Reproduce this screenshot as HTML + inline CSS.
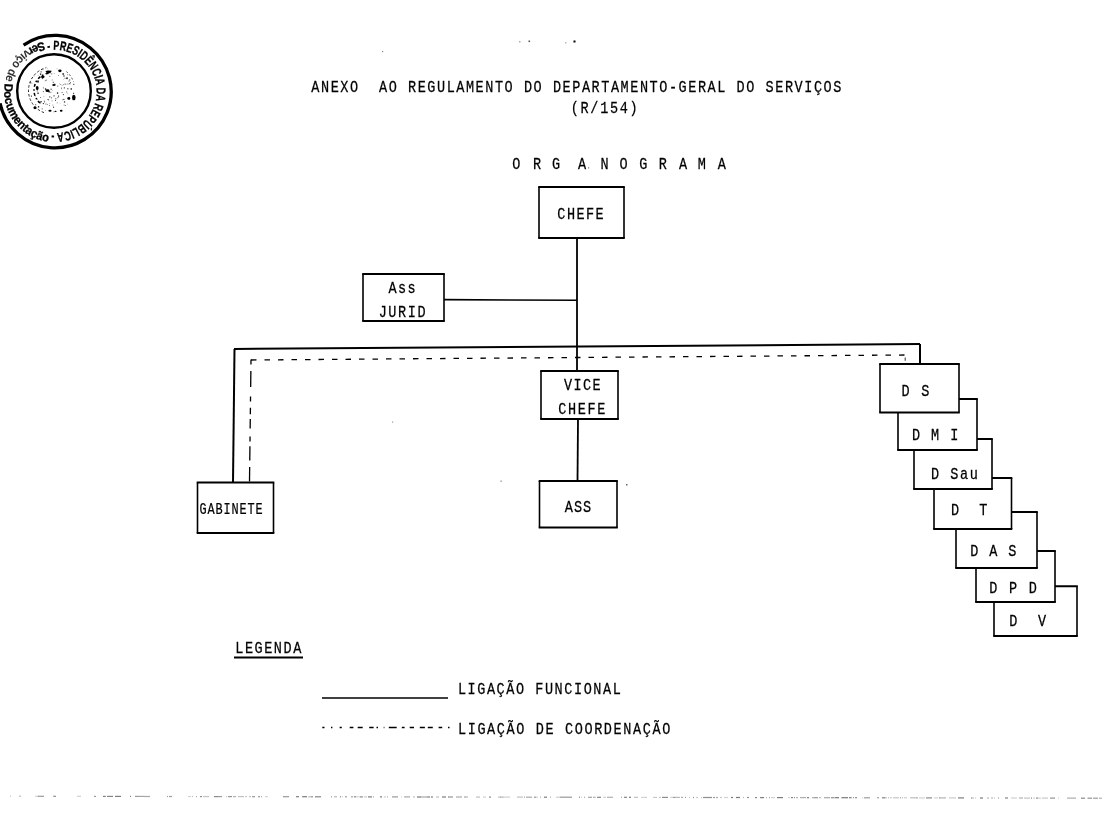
<!DOCTYPE html>
<html><head><meta charset="utf-8"><style>
html,body{margin:0;padding:0;background:#fff;width:1107px;height:814px;overflow:hidden}
svg{position:absolute;left:0;top:0;will-change:transform}
text{font-family:"Liberation Mono",monospace;fill:#000;stroke:#000;stroke-width:0.25}
.st{font-family:"Liberation Sans",sans-serif;font-weight:bold;stroke:#000;stroke-width:0.3}
</style></head><body>
<svg width="1107" height="814" viewBox="0 0 1107 814">
<text transform="translate(311.30,92) scale(0.82,1)" font-size="16.5" letter-spacing="1.893" xml:space="preserve">ANEXO  AO REGULAMENTO DO DEPARTAMENTO-GERAL DO SERVIÇOS</text>
<text transform="translate(570.74,113.3) scale(0.82,1)" font-size="16.5" letter-spacing="2.052" xml:space="preserve">(R/154)</text>
<text transform="translate(512.33,168.6) scale(0.82,1)" font-size="16.5">O</text>
<text transform="translate(532.93,168.6) scale(0.82,1)" font-size="16.5">R</text>
<text transform="translate(551.95,168.6) scale(0.82,1)" font-size="16.5">G</text>
<text transform="translate(578.00,168.6) scale(0.82,1)" font-size="16.5">A</text>
<text transform="translate(600.43,168.6) scale(0.82,1)" font-size="16.5">N</text>
<text transform="translate(619.53,168.6) scale(0.82,1)" font-size="16.5">O</text>
<text transform="translate(639.25,168.6) scale(0.82,1)" font-size="16.5">G</text>
<text transform="translate(658.63,168.6) scale(0.82,1)" font-size="16.5">R</text>
<text transform="translate(678.90,168.6) scale(0.82,1)" font-size="16.5">A</text>
<text transform="translate(697.75,168.6) scale(0.82,1)" font-size="16.5">M</text>
<text transform="translate(717.80,168.6) scale(0.82,1)" font-size="16.5">A</text>
<rect x="588" y="167.3" width="1.2" height="1.2" fill="#777"/>
<line x1="577" y1="238" x2="577" y2="371" stroke="#000" stroke-width="1.8"/>
<line x1="444" y1="299.6" x2="577" y2="300.3" stroke="#000" stroke-width="1.6"/>
<line x1="234" y1="349" x2="920" y2="344" stroke="#000" stroke-width="2"/>
<line x1="234.5" y1="349" x2="233" y2="482" stroke="#000" stroke-width="2"/>
<line x1="920" y1="344" x2="920" y2="364" stroke="#000" stroke-width="2"/>
<line x1="251" y1="360" x2="905" y2="355" stroke="#000" stroke-width="1.3" stroke-dasharray="5.5 8"/>
<line x1="251.00614754098362" y1="359.5" x2="250.94344262295084" y2="364.6" stroke="#000" stroke-width="1.3"/>
<line x1="250.86475409836066" y1="371" x2="250.66803278688525" y2="387" stroke="#000" stroke-width="1.3"/>
<line x1="250.55" y1="396.6" x2="250.4909836065574" y2="401.4" stroke="#000" stroke-width="1.3"/>
<line x1="250.41229508196722" y1="407.8" x2="250.33360655737704" y2="414.2" stroke="#000" stroke-width="1.3"/>
<line x1="250.27459016393442" y1="419" x2="250.15655737704918" y2="428.6" stroke="#000" stroke-width="1.3"/>
<line x1="250.05819672131148" y1="436.6" x2="249.99918032786886" y2="441.4" stroke="#000" stroke-width="1.3"/>
<line x1="249.94016393442624" y1="446.2" x2="249.76311475409838" y2="460.6" stroke="#000" stroke-width="1.3"/>
<line x1="249.6844262295082" y1="467" x2="249.50737704918035" y2="481.4" stroke="#000" stroke-width="1.3"/>
<line x1="905.2" y1="357.5" x2="905.2" y2="360.8" stroke="#333" stroke-width="1"/>
<line x1="578" y1="419" x2="577.5" y2="481" stroke="#000" stroke-width="1.8"/>
<rect x="539" y="187" width="85" height="51" fill="#fff"/>
<line x1="538.2" y1="187" x2="624.8" y2="187" stroke="#000" stroke-width="2"/>
<line x1="538.2" y1="238" x2="624.8" y2="238" stroke="#000" stroke-width="2"/>
<line x1="539" y1="187" x2="539" y2="238" stroke="#000" stroke-width="1.6"/>
<line x1="624" y1="187" x2="624" y2="238" stroke="#000" stroke-width="1.6"/>
<rect x="363" y="274" width="81" height="47" fill="#fff"/>
<line x1="362.2" y1="274" x2="444.8" y2="274" stroke="#000" stroke-width="2"/>
<line x1="362.2" y1="321" x2="444.8" y2="321" stroke="#000" stroke-width="2"/>
<line x1="363" y1="274" x2="363" y2="321" stroke="#000" stroke-width="1.6"/>
<line x1="444" y1="274" x2="444" y2="321" stroke="#000" stroke-width="1.6"/>
<rect x="541" y="371" width="77" height="48" fill="#fff"/>
<line x1="540.2" y1="371" x2="618.8" y2="371" stroke="#000" stroke-width="2"/>
<line x1="540.2" y1="419" x2="618.8" y2="419" stroke="#000" stroke-width="2"/>
<line x1="541" y1="371" x2="541" y2="419" stroke="#000" stroke-width="1.6"/>
<line x1="618" y1="371" x2="618" y2="419" stroke="#000" stroke-width="1.6"/>
<rect x="539.5" y="481" width="77.5" height="46.5" fill="#fff"/>
<line x1="538.7" y1="481" x2="617.8" y2="481" stroke="#000" stroke-width="2"/>
<line x1="538.7" y1="527.5" x2="617.8" y2="527.5" stroke="#000" stroke-width="2"/>
<line x1="539.5" y1="481" x2="539.5" y2="527.5" stroke="#000" stroke-width="1.6"/>
<line x1="617" y1="481" x2="617" y2="527.5" stroke="#000" stroke-width="1.6"/>
<rect x="197.5" y="482.5" width="76.0" height="50.5" fill="#fff"/>
<line x1="196.7" y1="482.5" x2="274.3" y2="482.5" stroke="#000" stroke-width="2"/>
<line x1="196.7" y1="533" x2="274.3" y2="533" stroke="#000" stroke-width="2"/>
<line x1="197.5" y1="482.5" x2="197.5" y2="533" stroke="#000" stroke-width="1.6"/>
<line x1="273.5" y1="482.5" x2="273.5" y2="533" stroke="#000" stroke-width="1.6"/>
<rect x="994" y="586.3" width="83" height="49.700000000000045" fill="#fff"/>
<line x1="993.2" y1="586.3" x2="1077.8" y2="586.3" stroke="#000" stroke-width="2"/>
<line x1="993.2" y1="636" x2="1077.8" y2="636" stroke="#000" stroke-width="2"/>
<line x1="994" y1="586.3" x2="994" y2="636" stroke="#000" stroke-width="1.6"/>
<line x1="1077" y1="586.3" x2="1077" y2="636" stroke="#000" stroke-width="1.6"/>
<rect x="976" y="551" width="79" height="51" fill="#fff"/>
<line x1="975.2" y1="551" x2="1055.8" y2="551" stroke="#000" stroke-width="2"/>
<line x1="975.2" y1="602" x2="1055.8" y2="602" stroke="#000" stroke-width="2"/>
<line x1="976" y1="551" x2="976" y2="602" stroke="#000" stroke-width="1.6"/>
<line x1="1055" y1="551" x2="1055" y2="602" stroke="#000" stroke-width="1.6"/>
<rect x="956" y="512" width="81" height="56" fill="#fff"/>
<line x1="955.2" y1="512" x2="1037.8" y2="512" stroke="#000" stroke-width="2"/>
<line x1="955.2" y1="568" x2="1037.8" y2="568" stroke="#000" stroke-width="2"/>
<line x1="956" y1="512" x2="956" y2="568" stroke="#000" stroke-width="1.6"/>
<line x1="1037" y1="512" x2="1037" y2="568" stroke="#000" stroke-width="1.6"/>
<rect x="934" y="478" width="77.5" height="51" fill="#fff"/>
<line x1="933.2" y1="478" x2="1012.3" y2="478" stroke="#000" stroke-width="2"/>
<line x1="933.2" y1="529" x2="1012.3" y2="529" stroke="#000" stroke-width="2"/>
<line x1="934" y1="478" x2="934" y2="529" stroke="#000" stroke-width="1.6"/>
<line x1="1011.5" y1="478" x2="1011.5" y2="529" stroke="#000" stroke-width="1.6"/>
<rect x="914" y="439" width="78" height="50" fill="#fff"/>
<line x1="913.2" y1="439" x2="992.8" y2="439" stroke="#000" stroke-width="2"/>
<line x1="913.2" y1="489" x2="992.8" y2="489" stroke="#000" stroke-width="2"/>
<line x1="914" y1="439" x2="914" y2="489" stroke="#000" stroke-width="1.6"/>
<line x1="992" y1="439" x2="992" y2="489" stroke="#000" stroke-width="1.6"/>
<rect x="898" y="399" width="79" height="51" fill="#fff"/>
<line x1="897.2" y1="399" x2="977.8" y2="399" stroke="#000" stroke-width="2"/>
<line x1="897.2" y1="450" x2="977.8" y2="450" stroke="#000" stroke-width="2"/>
<line x1="898" y1="399" x2="898" y2="450" stroke="#000" stroke-width="1.6"/>
<line x1="977" y1="399" x2="977" y2="450" stroke="#000" stroke-width="1.6"/>
<rect x="880" y="364" width="79" height="48.5" fill="#fff"/>
<line x1="879.2" y1="364" x2="959.8" y2="364" stroke="#000" stroke-width="2"/>
<line x1="879.2" y1="412.5" x2="959.8" y2="412.5" stroke="#000" stroke-width="2"/>
<line x1="880" y1="364" x2="880" y2="412.5" stroke="#000" stroke-width="1.6"/>
<line x1="959" y1="364" x2="959" y2="412.5" stroke="#000" stroke-width="1.6"/>
<text transform="translate(557.35,219.1) scale(0.82,1)" font-size="16.5" letter-spacing="1.755" xml:space="preserve">CHEFE</text>
<text transform="translate(388.60,292.6) scale(0.82,1)" font-size="16.5" letter-spacing="1.682" xml:space="preserve">Ass</text>
<text transform="translate(378.64,316.9) scale(0.82,1)" font-size="16.5" letter-spacing="1.967" xml:space="preserve">JURID</text>
<text transform="translate(563.93,390) scale(0.82,1)" font-size="16.5" letter-spacing="1.746" xml:space="preserve">VICE</text>
<text transform="translate(558.25,414.3) scale(0.82,1)" font-size="16.5" letter-spacing="1.999" xml:space="preserve">CHEFE</text>
<text transform="translate(564.80,512) scale(0.82,1)" font-size="16.5" letter-spacing="1.225" xml:space="preserve">ASS</text>
<text transform="translate(199.54,513.5) scale(0.72,1)" font-size="16.5" letter-spacing="1.219" xml:space="preserve">GABINETE</text>
<text transform="translate(901.53,396) scale(0.82,1)" font-size="16.5" letter-spacing="2.061" xml:space="preserve">D S</text>
<text transform="translate(911.93,439.6) scale(0.82,1)" font-size="16.5" letter-spacing="1.775" xml:space="preserve">D M I</text>
<text transform="translate(930.93,478.6) scale(0.82,1)" font-size="16.5" letter-spacing="1.958" xml:space="preserve">D Sau</text>
<text transform="translate(950.93,514.8) scale(0.82,1)" font-size="16.5" letter-spacing="1.627" xml:space="preserve">D  T</text>
<text transform="translate(970.33,556.3) scale(0.82,1)" font-size="16.5" letter-spacing="1.628" xml:space="preserve">D A S</text>
<text transform="translate(989.13,592.9) scale(0.82,1)" font-size="16.5" letter-spacing="2.214" xml:space="preserve">D P D</text>
<text transform="translate(1009.13,625.5) scale(0.82,1)" font-size="16.5" letter-spacing="1.815" xml:space="preserve">D  V</text>
<text transform="translate(235.23,653) scale(0.82,1)" font-size="16.5" letter-spacing="1.877" xml:space="preserve">LEGENDA</text>
<line x1="234" y1="657.5" x2="303" y2="657.5" stroke="#000" stroke-width="1.8"/>
<line x1="322" y1="698" x2="448" y2="698" stroke="#000" stroke-width="1.5"/>
<line x1="322.3" y1="727.5" x2="324.5" y2="727.5" stroke="#000" stroke-width="1.5"/>
<line x1="331" y1="727.5" x2="332.4" y2="727.5" stroke="#000" stroke-width="1.5"/>
<line x1="339.6" y1="727.5" x2="341.8" y2="727.5" stroke="#000" stroke-width="1.5"/>
<line x1="349.7" y1="727.5" x2="353.4" y2="727.5" stroke="#000" stroke-width="1.5"/>
<line x1="357.7" y1="727.5" x2="362.7" y2="727.5" stroke="#000" stroke-width="1.5"/>
<line x1="369.2" y1="727.5" x2="373.6" y2="727.5" stroke="#000" stroke-width="1.5"/>
<line x1="376.5" y1="727.5" x2="378" y2="727.5" stroke="#000" stroke-width="1.5"/>
<line x1="383.7" y1="727.5" x2="384.4" y2="727.5" stroke="#000" stroke-width="1.5"/>
<line x1="388.8" y1="727.5" x2="396.7" y2="727.5" stroke="#000" stroke-width="1.5"/>
<line x1="401.8" y1="727.5" x2="404.6" y2="727.5" stroke="#000" stroke-width="1.5"/>
<line x1="409.7" y1="727.5" x2="414" y2="727.5" stroke="#000" stroke-width="1.5"/>
<line x1="419.8" y1="727.5" x2="424.9" y2="727.5" stroke="#000" stroke-width="1.5"/>
<line x1="427.8" y1="727.5" x2="432.8" y2="727.5" stroke="#000" stroke-width="1.5"/>
<line x1="438.6" y1="727.5" x2="442.2" y2="727.5" stroke="#000" stroke-width="1.5"/>
<line x1="448" y1="727.5" x2="449.5" y2="727.5" stroke="#000" stroke-width="1.5"/>
<text transform="translate(457.93,693.8) scale(0.82,1)" font-size="16.5" letter-spacing="1.897" xml:space="preserve">LIGAÇÃO FUNCIONAL</text>
<text transform="translate(457.93,734) scale(0.82,1)" font-size="16.5" letter-spacing="1.970" xml:space="preserve">LIGAÇÃO DE COORDENAÇÃO</text>
<g><rect x="10" y="795.6" width="1" height="1.2" fill="rgb(195,195,195)"/><rect x="19" y="795.6" width="2" height="1.2" fill="rgb(190,190,190)"/><rect x="35" y="795.7" width="2" height="1.2" fill="rgb(214,214,214)"/><rect x="37" y="795.7" width="1" height="1.2" fill="rgb(195,195,195)"/><rect x="38" y="795.7" width="6" height="1.2" fill="rgb(154,154,154)"/><rect x="53" y="795.7" width="1" height="1.2" fill="rgb(166,166,166)"/><rect x="54" y="795.7" width="2" height="1.2" fill="rgb(147,147,147)"/><rect x="77" y="795.7" width="4" height="1.2" fill="rgb(209,209,209)"/><rect x="94" y="795.8" width="2" height="1.2" fill="rgb(156,156,156)"/><rect x="103" y="795.8" width="2" height="1.2" fill="rgb(128,128,128)"/><rect x="105" y="795.8" width="1" height="1.2" fill="rgb(157,157,157)"/><rect x="107" y="795.8" width="6" height="1.2" fill="rgb(135,135,135)"/><rect x="115" y="795.8" width="6" height="1.2" fill="rgb(125,125,125)"/><rect x="130" y="795.8" width="1" height="1.2" fill="rgb(129,129,129)"/><rect x="135" y="795.8" width="3" height="1.2" fill="rgb(153,153,153)"/><rect x="138" y="795.8" width="6" height="1.2" fill="rgb(163,163,163)"/><rect x="144" y="795.9" width="6" height="1.2" fill="rgb(168,168,168)"/><rect x="167" y="795.9" width="1" height="1.2" fill="rgb(158,158,158)"/><rect x="169" y="795.9" width="3" height="1.2" fill="rgb(158,158,158)"/><rect x="188" y="795.9" width="3" height="1.2" fill="rgb(210,210,210)"/><rect x="192" y="795.9" width="1" height="1.2" fill="rgb(195,195,195)"/><rect x="196" y="796.0" width="1" height="1.2" fill="rgb(167,167,167)"/><rect x="200" y="796.0" width="2" height="1.2" fill="rgb(143,143,143)"/><rect x="203" y="796.0" width="6" height="1.2" fill="rgb(196,196,196)"/><rect x="214" y="796.0" width="4" height="1.2" fill="rgb(136,136,136)"/><rect x="218" y="796.0" width="4" height="1.2" fill="rgb(154,154,154)"/><rect x="226" y="796.0" width="1" height="1.2" fill="rgb(196,196,196)"/><rect x="228" y="796.0" width="4" height="1.2" fill="rgb(148,148,148)"/><rect x="233" y="796.0" width="3" height="1.2" fill="rgb(177,177,177)"/><rect x="238" y="796.0" width="6" height="1.2" fill="rgb(193,193,193)"/><rect x="245" y="796.0" width="2" height="1.2" fill="rgb(202,202,202)"/><rect x="249" y="796.0" width="2" height="1.2" fill="rgb(195,195,195)"/><rect x="252" y="796.1" width="3" height="1.2" fill="rgb(154,154,154)"/><rect x="258" y="796.1" width="2" height="1.2" fill="rgb(157,157,157)"/><rect x="261" y="796.1" width="1" height="1.2" fill="rgb(172,172,172)"/><rect x="265" y="796.1" width="3" height="1.2" fill="rgb(211,211,211)"/><rect x="283" y="796.1" width="6" height="1.2" fill="rgb(151,151,151)"/><rect x="296" y="796.1" width="3" height="1.2" fill="rgb(126,126,126)"/><rect x="302" y="796.1" width="1" height="1.2" fill="rgb(141,141,141)"/><rect x="303" y="796.1" width="4" height="1.2" fill="rgb(122,122,122)"/><rect x="308" y="796.2" width="1" height="1.2" fill="rgb(198,198,198)"/><rect x="309" y="796.2" width="2" height="1.2" fill="rgb(189,189,189)"/><rect x="311" y="796.2" width="2" height="1.2" fill="rgb(148,148,148)"/><rect x="315" y="796.2" width="6" height="1.2" fill="rgb(135,135,135)"/><rect x="331" y="796.2" width="1" height="1.2" fill="rgb(154,154,154)"/><rect x="334" y="796.2" width="3" height="1.2" fill="rgb(186,186,186)"/><rect x="340" y="796.2" width="1" height="1.2" fill="rgb(135,135,135)"/><rect x="342" y="796.2" width="1" height="1.2" fill="rgb(211,211,211)"/><rect x="345" y="796.2" width="2" height="1.2" fill="rgb(160,160,160)"/><rect x="351" y="796.2" width="2" height="1.2" fill="rgb(166,166,166)"/><rect x="354" y="796.2" width="2" height="1.2" fill="rgb(135,135,135)"/><rect x="356" y="796.2" width="4" height="1.2" fill="rgb(212,212,212)"/><rect x="360" y="796.3" width="3" height="1.2" fill="rgb(142,142,142)"/><rect x="364" y="796.3" width="3" height="1.2" fill="rgb(203,203,203)"/><rect x="368" y="796.3" width="4" height="1.2" fill="rgb(125,125,125)"/><rect x="373" y="796.3" width="1" height="1.2" fill="rgb(167,167,167)"/><rect x="380" y="796.3" width="2" height="1.2" fill="rgb(122,122,122)"/><rect x="384" y="796.3" width="2" height="1.2" fill="rgb(208,208,208)"/><rect x="387" y="796.3" width="1" height="1.2" fill="rgb(174,174,174)"/><rect x="392" y="796.3" width="6" height="1.2" fill="rgb(153,153,153)"/><rect x="401" y="796.3" width="1" height="1.2" fill="rgb(213,213,213)"/><rect x="404" y="796.3" width="6" height="1.2" fill="rgb(168,168,168)"/><rect x="413" y="796.3" width="2" height="1.2" fill="rgb(192,192,192)"/><rect x="417" y="796.4" width="4" height="1.2" fill="rgb(120,120,120)"/><rect x="421" y="796.4" width="6" height="1.2" fill="rgb(169,169,169)"/><rect x="427" y="796.4" width="3" height="1.2" fill="rgb(132,132,132)"/><rect x="431" y="796.4" width="1" height="1.2" fill="rgb(123,123,123)"/><rect x="432" y="796.4" width="1" height="1.2" fill="rgb(134,134,134)"/><rect x="436" y="796.4" width="2" height="1.2" fill="rgb(194,194,194)"/><rect x="438" y="796.4" width="1" height="1.2" fill="rgb(192,192,192)"/><rect x="442" y="796.4" width="1" height="1.2" fill="rgb(133,133,133)"/><rect x="443" y="796.4" width="3" height="1.2" fill="rgb(127,127,127)"/><rect x="448" y="796.4" width="1" height="1.2" fill="rgb(129,129,129)"/><rect x="449" y="796.4" width="4" height="1.2" fill="rgb(151,151,151)"/><rect x="456" y="796.4" width="6" height="1.2" fill="rgb(170,170,170)"/><rect x="464" y="796.4" width="2" height="1.2" fill="rgb(164,164,164)"/><rect x="466" y="796.4" width="2" height="1.2" fill="rgb(184,184,184)"/><rect x="476" y="796.5" width="4" height="1.2" fill="rgb(192,192,192)"/><rect x="483" y="796.5" width="3" height="1.2" fill="rgb(207,207,207)"/><rect x="489" y="796.5" width="2" height="1.2" fill="rgb(139,139,139)"/><rect x="498" y="796.5" width="2" height="1.2" fill="rgb(195,195,195)"/><rect x="500" y="796.5" width="1" height="1.2" fill="rgb(154,154,154)"/><rect x="501" y="796.5" width="3" height="1.2" fill="rgb(185,185,185)"/><rect x="504" y="796.5" width="6" height="1.2" fill="rgb(208,208,208)"/><rect x="517" y="796.5" width="6" height="1.2" fill="rgb(194,194,194)"/><rect x="524" y="796.5" width="1" height="1.2" fill="rgb(159,159,159)"/><rect x="526" y="796.6" width="6" height="1.2" fill="rgb(168,168,168)"/><rect x="534" y="796.6" width="2" height="1.2" fill="rgb(150,150,150)"/><rect x="536" y="796.6" width="2" height="1.2" fill="rgb(209,209,209)"/><rect x="540" y="796.6" width="1" height="1.2" fill="rgb(179,179,179)"/><rect x="544" y="796.6" width="3" height="1.2" fill="rgb(123,123,123)"/><rect x="550" y="796.6" width="1" height="1.2" fill="rgb(171,171,171)"/><rect x="556" y="796.6" width="4" height="1.2" fill="rgb(206,206,206)"/><rect x="560" y="796.6" width="6" height="1.2" fill="rgb(152,152,152)"/><rect x="566" y="796.6" width="6" height="1.2" fill="rgb(153,153,153)"/><rect x="579" y="796.6" width="1" height="1.2" fill="rgb(125,125,125)"/><rect x="581" y="796.6" width="1" height="1.2" fill="rgb(213,213,213)"/><rect x="584" y="796.7" width="1" height="1.2" fill="rgb(165,165,165)"/><rect x="588" y="796.7" width="4" height="1.2" fill="rgb(163,163,163)"/><rect x="593" y="796.7" width="2" height="1.2" fill="rgb(175,175,175)"/><rect x="595" y="796.7" width="1" height="1.2" fill="rgb(202,202,202)"/><rect x="597" y="796.7" width="2" height="1.2" fill="rgb(136,136,136)"/><rect x="599" y="796.7" width="2" height="1.2" fill="rgb(129,129,129)"/><rect x="603" y="796.7" width="3" height="1.2" fill="rgb(209,209,209)"/><rect x="607" y="796.7" width="6" height="1.2" fill="rgb(177,177,177)"/><rect x="621" y="796.7" width="1" height="1.2" fill="rgb(163,163,163)"/><rect x="624" y="796.7" width="3" height="1.2" fill="rgb(134,134,134)"/><rect x="629" y="796.7" width="2" height="1.2" fill="rgb(127,127,127)"/><rect x="634" y="796.7" width="4" height="1.2" fill="rgb(192,192,192)"/><rect x="641" y="796.8" width="4" height="1.2" fill="rgb(213,213,213)"/><rect x="645" y="796.8" width="2" height="1.2" fill="rgb(203,203,203)"/><rect x="653" y="796.8" width="4" height="1.2" fill="rgb(203,203,203)"/><rect x="659" y="796.8" width="2" height="1.2" fill="rgb(202,202,202)"/><rect x="662" y="796.8" width="2" height="1.2" fill="rgb(142,142,142)"/><rect x="664" y="796.8" width="4" height="1.2" fill="rgb(143,143,143)"/><rect x="670" y="796.8" width="3" height="1.2" fill="rgb(214,214,214)"/><rect x="673" y="796.8" width="2" height="1.2" fill="rgb(154,154,154)"/><rect x="675" y="796.8" width="1" height="1.2" fill="rgb(181,181,181)"/><rect x="676" y="796.8" width="4" height="1.2" fill="rgb(185,185,185)"/><rect x="681" y="796.8" width="2" height="1.2" fill="rgb(177,177,177)"/><rect x="685" y="796.8" width="1" height="1.2" fill="rgb(154,154,154)"/><rect x="689" y="796.8" width="1" height="1.2" fill="rgb(192,192,192)"/><rect x="693" y="796.9" width="1" height="1.2" fill="rgb(143,143,143)"/><rect x="696" y="796.9" width="2" height="1.2" fill="rgb(205,205,205)"/><rect x="701" y="796.9" width="1" height="1.2" fill="rgb(195,195,195)"/><rect x="703" y="796.9" width="6" height="1.2" fill="rgb(144,144,144)"/><rect x="709" y="796.9" width="3" height="1.2" fill="rgb(142,142,142)"/><rect x="713" y="796.9" width="2" height="1.2" fill="rgb(157,157,157)"/><rect x="716" y="796.9" width="2" height="1.2" fill="rgb(169,169,169)"/><rect x="720" y="796.9" width="2" height="1.2" fill="rgb(201,201,201)"/><rect x="724" y="796.9" width="4" height="1.2" fill="rgb(210,210,210)"/><rect x="731" y="796.9" width="2" height="1.2" fill="rgb(123,123,123)"/><rect x="736" y="796.9" width="4" height="1.2" fill="rgb(120,120,120)"/><rect x="743" y="796.9" width="1" height="1.2" fill="rgb(182,182,182)"/><rect x="747" y="796.9" width="2" height="1.2" fill="rgb(145,145,145)"/><rect x="755" y="797.0" width="2" height="1.2" fill="rgb(134,134,134)"/><rect x="760" y="797.0" width="1" height="1.2" fill="rgb(137,137,137)"/><rect x="761" y="797.0" width="3" height="1.2" fill="rgb(126,126,126)"/><rect x="766" y="797.0" width="1" height="1.2" fill="rgb(184,184,184)"/><rect x="769" y="797.0" width="1" height="1.2" fill="rgb(163,163,163)"/><rect x="771" y="797.0" width="4" height="1.2" fill="rgb(208,208,208)"/><rect x="777" y="797.0" width="6" height="1.2" fill="rgb(124,124,124)"/><rect x="788" y="797.0" width="2" height="1.2" fill="rgb(209,209,209)"/><rect x="791" y="797.0" width="2" height="1.2" fill="rgb(133,133,133)"/><rect x="794" y="797.0" width="1" height="1.2" fill="rgb(145,145,145)"/><rect x="796" y="797.0" width="2" height="1.2" fill="rgb(180,180,180)"/><rect x="800" y="797.0" width="6" height="1.2" fill="rgb(174,174,174)"/><rect x="807" y="797.1" width="2" height="1.2" fill="rgb(122,122,122)"/><rect x="812" y="797.1" width="2" height="1.2" fill="rgb(176,176,176)"/><rect x="814" y="797.1" width="4" height="1.2" fill="rgb(152,152,152)"/><rect x="819" y="797.1" width="2" height="1.2" fill="rgb(187,187,187)"/><rect x="824" y="797.1" width="6" height="1.2" fill="rgb(167,167,167)"/><rect x="831" y="797.1" width="3" height="1.2" fill="rgb(144,144,144)"/><rect x="834" y="797.1" width="1" height="1.2" fill="rgb(194,194,194)"/><rect x="835" y="797.1" width="4" height="1.2" fill="rgb(123,123,123)"/><rect x="841" y="797.1" width="1" height="1.2" fill="rgb(176,176,176)"/><rect x="842" y="797.1" width="6" height="1.2" fill="rgb(122,122,122)"/><rect x="849" y="797.1" width="2" height="1.2" fill="rgb(124,124,124)"/><rect x="851" y="797.1" width="1" height="1.2" fill="rgb(171,171,171)"/><rect x="853" y="797.1" width="1" height="1.2" fill="rgb(148,148,148)"/><rect x="855" y="797.1" width="2" height="1.2" fill="rgb(144,144,144)"/><rect x="862" y="797.2" width="1" height="1.2" fill="rgb(213,213,213)"/><rect x="864" y="797.2" width="6" height="1.2" fill="rgb(158,158,158)"/><rect x="877" y="797.2" width="2" height="1.2" fill="rgb(160,160,160)"/><rect x="882" y="797.2" width="2" height="1.2" fill="rgb(131,131,131)"/><rect x="884" y="797.2" width="1" height="1.2" fill="rgb(123,123,123)"/><rect x="885" y="797.2" width="1" height="1.2" fill="rgb(184,184,184)"/><rect x="886" y="797.2" width="1" height="1.2" fill="rgb(203,203,203)"/><rect x="888" y="797.2" width="1" height="1.2" fill="rgb(181,181,181)"/><rect x="890" y="797.2" width="2" height="1.2" fill="rgb(204,204,204)"/><rect x="893" y="797.2" width="6" height="1.2" fill="rgb(197,197,197)"/><rect x="900" y="797.2" width="1" height="1.2" fill="rgb(157,157,157)"/><rect x="902" y="797.2" width="1" height="1.2" fill="rgb(184,184,184)"/><rect x="904" y="797.2" width="3" height="1.2" fill="rgb(207,207,207)"/><rect x="910" y="797.2" width="6" height="1.2" fill="rgb(190,190,190)"/><rect x="916" y="797.3" width="2" height="1.2" fill="rgb(173,173,173)"/><rect x="919" y="797.3" width="6" height="1.2" fill="rgb(209,209,209)"/><rect x="926" y="797.3" width="6" height="1.2" fill="rgb(141,141,141)"/><rect x="934" y="797.3" width="4" height="1.2" fill="rgb(209,209,209)"/><rect x="939" y="797.3" width="1" height="1.2" fill="rgb(139,139,139)"/><rect x="940" y="797.3" width="6" height="1.2" fill="rgb(179,179,179)"/><rect x="949" y="797.3" width="4" height="1.2" fill="rgb(204,204,204)"/><rect x="953" y="797.3" width="3" height="1.2" fill="rgb(202,202,202)"/><rect x="958" y="797.3" width="6" height="1.2" fill="rgb(126,126,126)"/><rect x="971" y="797.4" width="1" height="1.2" fill="rgb(144,144,144)"/><rect x="972" y="797.4" width="2" height="1.2" fill="rgb(192,192,192)"/><rect x="975" y="797.4" width="1" height="1.2" fill="rgb(203,203,203)"/><rect x="980" y="797.4" width="3" height="1.2" fill="rgb(121,121,121)"/><rect x="987" y="797.4" width="2" height="1.2" fill="rgb(184,184,184)"/><rect x="991" y="797.4" width="2" height="1.2" fill="rgb(188,188,188)"/><rect x="994" y="797.4" width="1" height="1.2" fill="rgb(199,199,199)"/><rect x="998" y="797.4" width="1" height="1.2" fill="rgb(152,152,152)"/><rect x="1005" y="797.4" width="3" height="1.2" fill="rgb(133,133,133)"/><rect x="1011" y="797.4" width="6" height="1.2" fill="rgb(209,209,209)"/><rect x="1019" y="797.4" width="4" height="1.2" fill="rgb(177,177,177)"/><rect x="1024" y="797.5" width="6" height="1.2" fill="rgb(196,196,196)"/><rect x="1031" y="797.5" width="1" height="1.2" fill="rgb(134,134,134)"/><rect x="1033" y="797.5" width="2" height="1.2" fill="rgb(213,213,213)"/><rect x="1036" y="797.5" width="2" height="1.2" fill="rgb(144,144,144)"/><rect x="1038" y="797.5" width="3" height="1.2" fill="rgb(207,207,207)"/><rect x="1042" y="797.5" width="6" height="1.2" fill="rgb(202,202,202)"/><rect x="1050" y="797.5" width="1" height="1.2" fill="rgb(151,151,151)"/><rect x="1051" y="797.5" width="2" height="1.2" fill="rgb(150,150,150)"/><rect x="1053" y="797.5" width="2" height="1.2" fill="rgb(147,147,147)"/><rect x="1058" y="797.5" width="1" height="1.2" fill="rgb(212,212,212)"/><rect x="1067" y="797.5" width="6" height="1.2" fill="rgb(173,173,173)"/><rect x="1073" y="797.5" width="3" height="1.2" fill="rgb(172,172,172)"/><rect x="1081" y="797.6" width="4" height="1.2" fill="rgb(139,139,139)"/><rect x="1087" y="797.6" width="1" height="1.2" fill="rgb(201,201,201)"/><rect x="1088" y="797.6" width="4" height="1.2" fill="rgb(146,146,146)"/><rect x="1093" y="797.6" width="1" height="1.2" fill="rgb(164,164,164)"/><rect x="1094" y="797.6" width="4" height="1.2" fill="rgb(156,156,156)"/><rect x="1099" y="797.6" width="2" height="1.2" fill="rgb(172,172,172)"/><rect x="1101" y="797.6" width="1" height="1.2" fill="rgb(182,182,182)"/></g>
<path d="M 23.57 45.01 A 56.2 56.2 0 0 1 90.37 47.92 A 56.2 56.2 0 0 1 107.11 112.65 A 56.2 56.2 0 0 1 50.10 147.59 A 56.2 56.2 0 0 1 0.03 103.28" fill="none" stroke="#000" stroke-width="3.3"/>
<circle cx="54" cy="91" r="36.8" fill="none" stroke="#000" stroke-width="2.4"/>
<defs><path id="arcA" d="M 47.78 50.53 A 41.6 41.6 0 0 1 88.94 67.44 A 41.6 41.6 0 0 1 91.27 111.88 A 41.6 41.6 0 0 1 52.10 133.00"/><path id="arcB" d="M 43.57 42.00 A 50.8 50.8 0 0 0 4.25 93.72 A 50.8 50.8 0 0 0 47.93 141.81"/></defs>
<text class="st" font-size="13" textLength="140.9" lengthAdjust="spacingAndGlyphs"><textPath href="#arcA">- PRESIDÊNCIA DA REPÚBLICA -</textPath></text>
<text class="st" font-size="12" textLength="141.0" lengthAdjust="spacingAndGlyphs"><textPath href="#arcB">Ser<tspan fill="#333" stroke="none">viço de</tspan> Documentação</textPath></text>
<g><rect x="45.3" y="103.4" width="1.3" height="1.3" fill="#999"/><rect x="42.4" y="103.0" width="1" height="1" fill="#bbb"/><rect x="40.6" y="101.0" width="1" height="1" fill="#000"/><rect x="63.0" y="79.3" width="0.8" height="0.8" fill="#bbb"/><rect x="46.0" y="66.8" width="1" height="1" fill="#bbb"/><rect x="50.5" y="91.8" width="0.8" height="0.8" fill="#000"/><rect x="61.0" y="88.5" width="0.8" height="0.8" fill="#999"/><rect x="43.9" y="100.1" width="1" height="1" fill="#bbb"/><rect x="61.7" y="92.0" width="0.8" height="0.8" fill="#000"/><rect x="66.3" y="91.7" width="0.8" height="0.8" fill="#666"/><rect x="63.8" y="87.4" width="1" height="1" fill="#000"/><rect x="44.9" y="88.4" width="1.3" height="1.3" fill="#000"/><rect x="64.8" y="105.0" width="0.8" height="0.8" fill="#000"/><rect x="46.3" y="79.5" width="0.8" height="0.8" fill="#999"/><rect x="37.4" y="92.6" width="1.3" height="1.3" fill="#000"/><rect x="67.4" y="83.5" width="1" height="1" fill="#666"/><rect x="56.9" y="92.4" width="1.3" height="1.3" fill="#000"/><rect x="42.9" y="91.3" width="0.8" height="0.8" fill="#000"/><rect x="52.3" y="104.6" width="1" height="1" fill="#999"/><rect x="49.5" y="72.7" width="1" height="1" fill="#999"/><rect x="63.3" y="75.3" width="1.3" height="1.3" fill="#333"/><rect x="50.6" y="88.7" width="1" height="1" fill="#000"/><rect x="57.5" y="97.3" width="0.8" height="0.8" fill="#000"/><rect x="73.3" y="83.8" width="1" height="1" fill="#000"/><rect x="68.8" y="98.6" width="1" height="1" fill="#999"/><rect x="54.3" y="83.7" width="1" height="1" fill="#000"/><rect x="63.9" y="101.3" width="1.3" height="1.3" fill="#333"/><rect x="53.3" y="111.4" width="1" height="1" fill="#999"/><rect x="59.1" y="83.4" width="1" height="1" fill="#bbb"/><rect x="61.7" y="84.8" width="1" height="1" fill="#999"/><rect x="37.9" y="106.2" width="1.3" height="1.3" fill="#000"/><rect x="52.8" y="81.8" width="1" height="1" fill="#333"/><rect x="63.5" y="104.4" width="1.3" height="1.3" fill="#bbb"/><rect x="49.0" y="105.0" width="0.8" height="0.8" fill="#333"/><rect x="47.0" y="99.2" width="0.8" height="0.8" fill="#666"/><rect x="45.6" y="79.9" width="0.8" height="0.8" fill="#000"/><rect x="55.0" y="100.2" width="0.8" height="0.8" fill="#000"/><rect x="58.1" y="95.6" width="1" height="1" fill="#000"/><rect x="42.2" y="78.3" width="1" height="1" fill="#bbb"/><rect x="64.6" y="77.8" width="0.8" height="0.8" fill="#000"/><rect x="63.4" y="98.9" width="1" height="1" fill="#000"/><rect x="48.5" y="91.2" width="1.3" height="1.3" fill="#000"/><rect x="68.8" y="97.2" width="0.8" height="0.8" fill="#000"/><rect x="62.4" y="99.4" width="0.8" height="0.8" fill="#333"/><rect x="40.6" y="71.4" width="1" height="1" fill="#000"/><rect x="39.9" y="73.5" width="1.3" height="1.3" fill="#000"/><rect x="41.6" y="108.2" width="1.3" height="1.3" fill="#999"/><rect x="39.9" y="102.6" width="0.8" height="0.8" fill="#000"/><rect x="50.2" y="70.6" width="1.3" height="1.3" fill="#666"/><rect x="36.7" y="90.3" width="1.3" height="1.3" fill="#999"/><rect x="47.0" y="104.1" width="0.8" height="0.8" fill="#666"/><rect x="53.1" y="106.7" width="1" height="1" fill="#000"/><rect x="40.3" y="101.2" width="1.3" height="1.3" fill="#666"/><rect x="67.1" y="103.7" width="1" height="1" fill="#bbb"/><rect x="60.1" y="84.0" width="1" height="1" fill="#999"/><rect x="67.2" y="88.1" width="1.3" height="1.3" fill="#666"/><rect x="55.3" y="98.3" width="1" height="1" fill="#333"/><rect x="43.9" y="101.4" width="1" height="1" fill="#333"/><rect x="51.2" y="97.5" width="0.8" height="0.8" fill="#000"/><rect x="73.1" y="92.8" width="1" height="1" fill="#000"/><rect x="66.2" y="91.4" width="1" height="1" fill="#999"/><rect x="49.2" y="103.1" width="1" height="1" fill="#bbb"/><rect x="58.0" y="75.2" width="0.8" height="0.8" fill="#666"/><rect x="56.5" y="68.2" width="1" height="1" fill="#bbb"/><rect x="40.0" y="97.1" width="0.8" height="0.8" fill="#333"/><rect x="64.6" y="83.6" width="1" height="1" fill="#333"/><rect x="31.6" y="83.1" width="0.8" height="0.8" fill="#999"/><rect x="49.3" y="96.4" width="1" height="1" fill="#000"/><rect x="69.1" y="83.0" width="1.3" height="1.3" fill="#666"/><rect x="51.7" y="79.3" width="1.3" height="1.3" fill="#bbb"/><rect x="68.5" y="80.6" width="1" height="1" fill="#666"/><rect x="45.5" y="73.0" width="1" height="1" fill="#999"/><rect x="30.9" y="95.6" width="1" height="1" fill="#000"/><rect x="41.8" y="77.5" width="1.3" height="1.3" fill="#333"/><rect x="65.6" y="83.9" width="0.8" height="0.8" fill="#999"/><rect x="37.0" y="98.8" width="1" height="1" fill="#999"/><rect x="49.5" y="75.9" width="0.8" height="0.8" fill="#000"/><rect x="44.8" y="80.4" width="0.8" height="0.8" fill="#666"/><rect x="34.7" y="84.7" width="1" height="1" fill="#666"/><rect x="33.7" y="75.5" width="1" height="1" fill="#bbb"/><rect x="53.4" y="95.2" width="1.3" height="1.3" fill="#666"/><rect x="53.9" y="73.2" width="0.8" height="0.8" fill="#999"/><rect x="69.2" y="79.4" width="1" height="1" fill="#333"/><rect x="51.0" y="73.2" width="1.3" height="1.3" fill="#999"/><rect x="34.8" y="95.5" width="1" height="1" fill="#999"/><rect x="67.2" y="93.2" width="1" height="1" fill="#bbb"/><rect x="41.9" y="75.2" width="1" height="1" fill="#666"/><rect x="45.7" y="70.9" width="1" height="1" fill="#666"/><rect x="46.8" y="68.2" width="1" height="1" fill="#bbb"/><rect x="59.6" y="102.8" width="0.8" height="0.8" fill="#bbb"/><rect x="52.1" y="90.2" width="0.8" height="0.8" fill="#bbb"/><rect x="45.0" y="110.2" width="0.8" height="0.8" fill="#999"/><rect x="57.1" y="85.5" width="1.3" height="1.3" fill="#999"/><rect x="30.0" y="82.1" width="1.3" height="1.3" fill="#666"/><rect x="51.5" y="100.4" width="1" height="1" fill="#999"/><rect x="42.4" y="68.9" width="1.3" height="1.3" fill="#bbb"/><rect x="63.1" y="84.3" width="0.8" height="0.8" fill="#666"/><rect x="42.9" y="87.5" width="0.8" height="0.8" fill="#000"/><rect x="61.0" y="87.6" width="1" height="1" fill="#666"/><rect x="70.6" y="88.3" width="1.3" height="1.3" fill="#000"/><rect x="43.0" y="103.1" width="1" height="1" fill="#333"/><rect x="37.7" y="75.1" width="0.8" height="0.8" fill="#999"/><rect x="34.7" y="80.7" width="1" height="1" fill="#bbb"/><rect x="43.4" y="96.1" width="1" height="1" fill="#bbb"/><rect x="48.1" y="99.3" width="1" height="1" fill="#333"/><rect x="35.2" y="104.3" width="1" height="1" fill="#333"/><rect x="62.9" y="94.1" width="1" height="1" fill="#333"/><rect x="70.1" y="82.1" width="0.8" height="0.8" fill="#333"/><rect x="67.0" y="74.4" width="0.8" height="0.8" fill="#666"/><rect x="56.7" y="102.1" width="1.3" height="1.3" fill="#bbb"/><ellipse cx="48.5" cy="71.8" rx="2.8" ry="1.4" fill="#000"/><ellipse cx="42.8" cy="76.8" rx="1.8" ry="1.4" fill="#000"/><ellipse cx="37.2" cy="88.1" rx="1.4" ry="2.1" fill="#000"/><ellipse cx="47.5" cy="90.7" rx="2.0" ry="1.4" fill="#000"/><ellipse cx="73.8" cy="97.5" rx="1.8" ry="2.8" fill="#000"/><ellipse cx="68.8" cy="98.4" rx="1.5" ry="1.3" fill="#000"/><ellipse cx="35.0" cy="107.8" rx="1.6" ry="1.4" fill="#000"/><ellipse cx="53.9" cy="85.1" rx="1.7" ry="1.0" fill="#000"/><ellipse cx="59.9" cy="70.8" rx="1.7" ry="1.4" fill="#000"/><ellipse cx="50.0" cy="110.8" rx="1.6" ry="1.0" fill="#000"/><ellipse cx="55.5" cy="111.3" rx="1.2" ry="0.6" fill="#000"/><ellipse cx="61.2" cy="110.8" rx="1.4" ry="1.0" fill="#000"/><ellipse cx="38.0" cy="81.5" rx="0.8" ry="1.2" fill="#000"/><ellipse cx="63.2" cy="74.0" rx="1.0" ry="0.8" fill="#000"/><ellipse cx="67.0" cy="78.2" rx="0.8" ry="1.0" fill="#000"/></g>
<path d="M 43.96 112.58 A 23.5 23.5 0 0 1 28.52 89.47 A 23.5 23.5 0 0 1 45.92 67.80" fill="none" stroke="#222" stroke-width="1" stroke-dasharray="2.5 2"/>
<path d="M 40.07 103.02 A 17 17 0 0 1 34.79 84.89 A 17 17 0 0 1 49.52 73.06" fill="none" stroke="#000" stroke-width="1.5" stroke-dasharray="3 2 1.5 2.5"/>
<path d="M 66.43 71.61 A 24 24 0 0 1 73.55 81.79" fill="none" stroke="#444" stroke-width="1" stroke-dasharray="2 2"/>
<rect x="519" y="41" width="1.5" height="1.5" fill="#aaa"/>
<rect x="528.5" y="40.5" width="1.6" height="1.6" fill="#555"/>
<rect x="565" y="42" width="1.5" height="1.5" fill="#bbb"/>
<rect x="573.5" y="40.5" width="2" height="2" fill="#000"/>
<rect x="382" y="51" width="1.2" height="1.2" fill="#888"/>
<rect x="626" y="484" width="1.5" height="1.5" fill="#666"/>
<rect x="500.5" y="480.5" width="1.3" height="1.3" fill="#888"/>
<rect x="392" y="421.5" width="1.2" height="1.2" fill="#999"/>
</svg></body></html>
